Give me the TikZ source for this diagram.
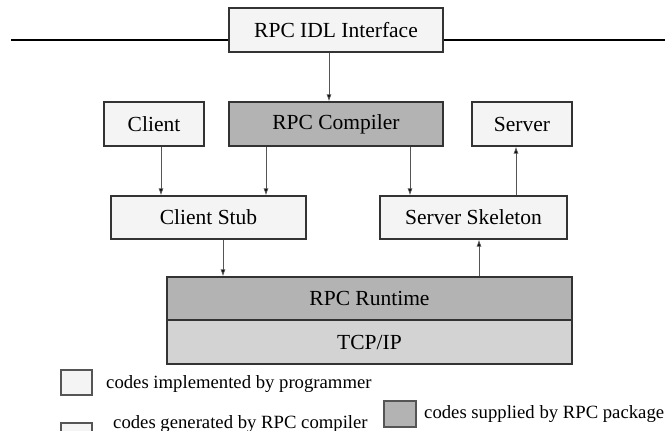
\documentclass[tikz,border=0pt]{standalone}
\usepackage{fontspec}
\setmainfont{Liberation Serif}
\usetikzlibrary{arrows.meta}
\definecolor{lightfill}{HTML}{F4F4F4}
\definecolor{darkfill}{HTML}{B3B3B3}
\definecolor{midfill}{HTML}{D3D3D3}
\definecolor{edge}{HTML}{333333}
\definecolor{wire}{HTML}{555555}
\begin{document}
\begin{tikzpicture}[x=1pt,y=-1pt,
  box/.style={draw=edge, line width=1.2pt, inner sep=0pt, anchor=center,
    font=\fontsize{21.5}{21.5}\selectfont},
  userbox/.style={box, fill=lightfill},
  pkgbox/.style={box, fill=darkfill},
  netbox/.style={box, fill=midfill},
  arr/.style={draw=wire, line width=0.8pt, -{Latex[length=7pt,width=5pt,fill=black]}},
  keybox/.style={draw=wire, line width=1.2pt, minimum width=31pt, minimum height=25pt, inner sep=0pt},
  keytext/.style={anchor=base west, inner sep=0pt, font=\fontsize{18.7}{18.7}\selectfont}]
\useasboundingbox (0,0) rectangle (665,431);
\clip (0,0) rectangle (665,431);

% interface bar and nodes
\node[userbox, minimum width=214pt, minimum height=44pt] (idl) at (336,30) {RPC IDL Interface};
\coordinate (barL) at (11,40);
\coordinate (barR) at (665,40);
\draw[line width=2.8pt] (barL) -- (idl.west |- barL);
\draw[line width=2.8pt] (idl.east |- barR) -- (barR);

\node[userbox, minimum width=100pt, minimum height=44pt] (client) at (154,124) {Client};
\node[pkgbox, minimum width=214pt, minimum height=44pt] (comp) at (336,124) {RPC Compiler};
\node[userbox, minimum width=100pt, minimum height=44pt] (server) at (522,124) {Server};

\node[userbox, minimum width=195pt, minimum height=43pt] (stub) at (208.5,217.5) {Client Stub};
\node[userbox, minimum width=187pt, minimum height=43pt] (skel) at (473.5,217.5) {Server Skeleton};

\node[pkgbox, minimum width=405pt, minimum height=43pt] (runtime) at (369.5,298.5) {RPC Runtime};
\node[netbox, minimum width=405pt, minimum height=44pt] (tcp) at (369.5,342) {TCP/IP};
\draw[line width=1.2pt, edge] (runtime.south west) -- (runtime.south east);

% connectors
\coordinate (a1) at ([xshift=-7pt]idl.south);
\draw[arr] (a1) -- (a1 |- comp.north);
\coordinate (a2) at ([xshift=7pt]client.south);
\draw[arr] (a2) -- (a2 |- stub.north);
\coordinate (a3) at ([xshift=-70pt]comp.south);
\draw[arr] (a3) -- (a3 |- stub.north);
\coordinate (a4) at ([xshift=74pt]comp.south);
\draw[arr] (a4) -- (a4 |- skel.north);
\coordinate (a5) at ([xshift=42.5pt]skel.north);
\draw[arr] (a5) -- (a5 |- server.south);
\coordinate (a6) at ([xshift=14.5pt]stub.south);
\draw[arr] (a6) -- (a6 |- runtime.north);
\coordinate (a7) at ([xshift=109.5pt]runtime.north);
\draw[arr] (a7) -- (a7 |- skel.south);

% legend
\node[keybox, fill=lightfill] (k1) at (76.5,382.5) {};
\node[keytext] (t1) at (106,388) {codes implemented by programmer};
\node[keybox, fill=lightfill] (k2) at (76.5,435.5) {};
\node[keytext] (t2) at (113,428) {codes generated by RPC compiler};
\node[keybox, fill=darkfill, minimum width=32pt, minimum height=26pt] (k3) at (400,414) {};
\node[keytext] (t3) at (424,418) {codes supplied by RPC package};
\end{tikzpicture}
\end{document}
